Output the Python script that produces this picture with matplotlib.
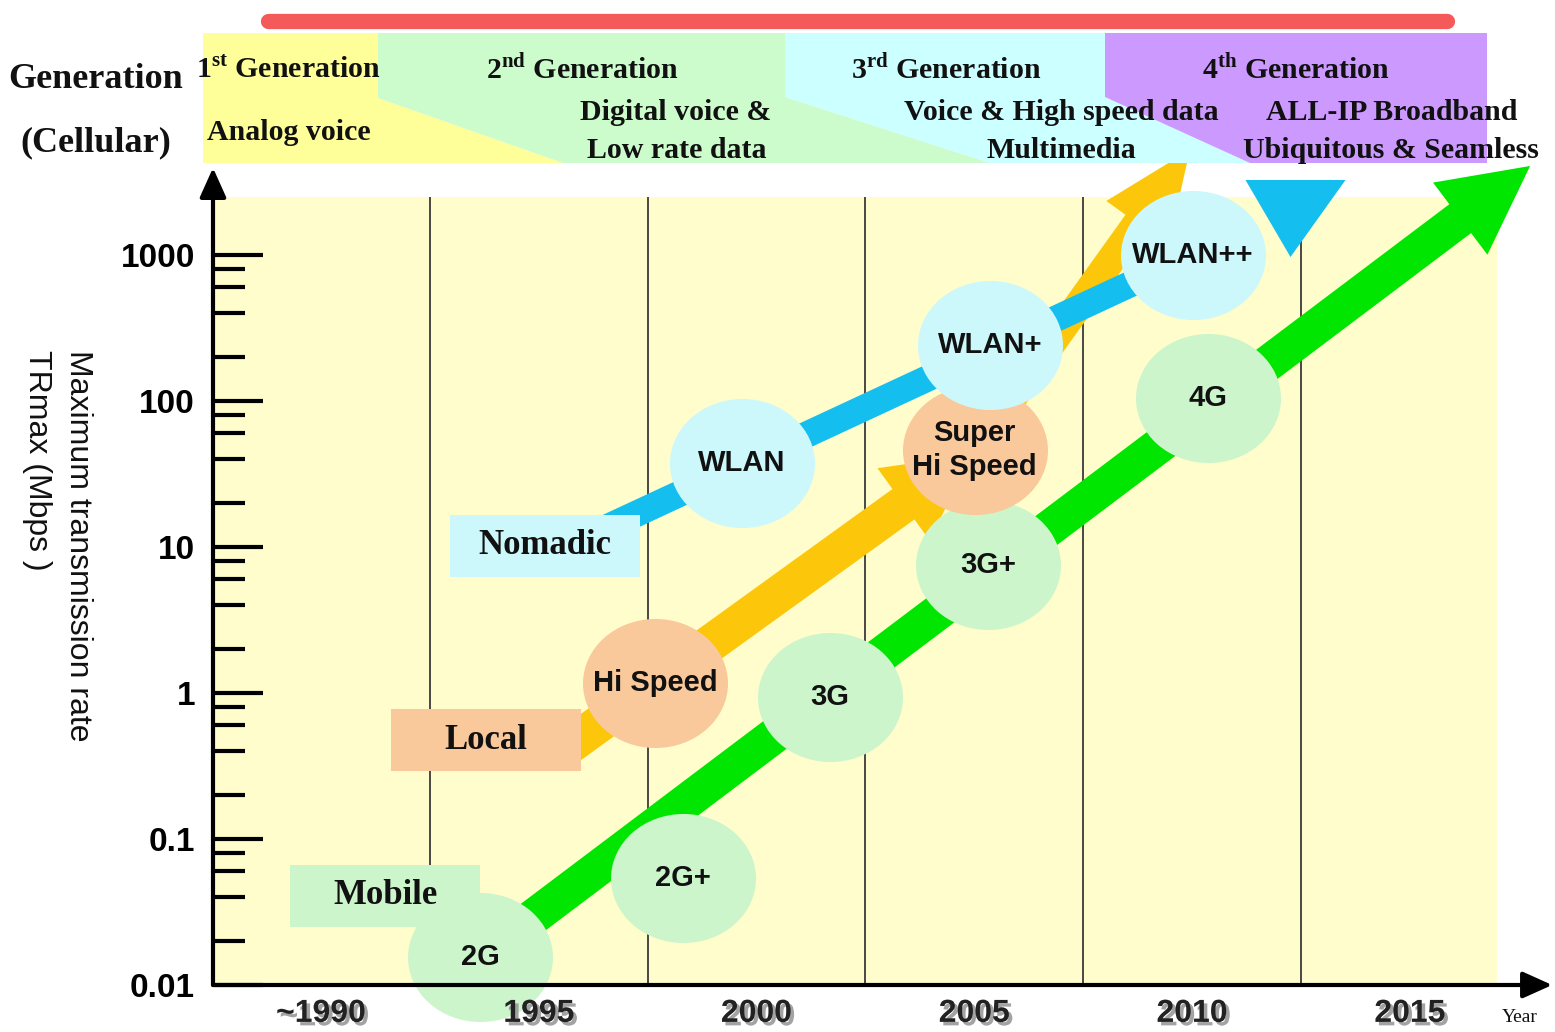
import matplotlib
matplotlib.use('Agg')
import matplotlib.pyplot as plt
import matplotlib.patheffects as pe
from matplotlib.path import Path
from matplotlib.transforms import Affine2D
from matplotlib.patches import FancyArrowPatch, Polygon
from matplotlib.ticker import FixedLocator, NullFormatter

plt.rcParams['font.family'] = ['Liberation Sans', 'DejaVu Sans']
plt.rcParams['mathtext.fontset'] = 'custom'
plt.rcParams['mathtext.rm'] = 'Liberation Serif:bold'
plt.rcParams['mathtext.bf'] = 'Liberation Serif:bold'

# ---- data ----
year_ticks = [1990, 1995, 2000, 2005, 2010, 2015]
year_labels = ['~1990', '1995', '2000', '2005', '2010', '2015']
era_lines = [1992.5, 1997.5, 2002.5, 2007.5, 2012.5]
rate_ticks = [0.01, 0.1, 1, 10, 100, 1000]
rate_labels = ['0.01', '0.1', '1', '10', '100', '1000']
rate_minor = [m * 10.0 ** e for e in range(-2, 3) for m in (2, 4, 6, 8)]

cell_labels = ['2G', '2G+', '3G', '3G+', '4G']
cell_years = [1993.65, 1998.31, 2001.68, 2005.31, 2010.36]
cell_rates = [0.0155, 0.054, 0.94, 7.5, 105]

local_labels = ['Hi Speed', 'Super\nHi Speed']
local_years = [1997.67, 2005.01]
local_rates = [1.17, 46]

wlan_labels = ['WLAN', 'WLAN+', 'WLAN++']
wlan_years = [1999.66, 2005.36, 2010.02]
wlan_rates = [37.6, 242, 1000]

class_labels = ['Mobile', 'Local', 'Nomadic']
class_years = [1991.48, 1993.79, 1995.14]
class_rates = [0.041, 0.476, 10.2]

# trend arrows: start and end (year, Mbps)
mobile_trend_years = [1993.65, 2017.76]
mobile_trend_rates = [0.0155, 4070]
local_trend_years = [1995.49, 2004.95]
local_trend_rates = [0.394, 42.9]
local_trend2_years = [2005.01, 2009.95]
local_trend2_rates = [46, 5250]
nomadic_trend_years = [1996.40, 2010.02]
nomadic_trend_rates = [12.9, 1000]
nomadic_head_year = [2012.36]
nomadic_head_rate = [1780]

# ---- figure ----
fig = plt.figure(figsize=(15.55, 10.32), dpi=100)
ax = fig.add_axes([213 / 1555, 1 - 985 / 1032, 1284 / 1555, 788 / 1032])
ax.set_facecolor('#fffdcc')
ax.set_yscale('log')
ax.set_xlim(1987.52, 2017.0)
ax.set_ylim(0.01, 2495)
for s in ax.spines.values():
    s.set_visible(False)

for x in era_lines:
    ax.axvline(x, color='#3a3a3a', lw=1.3, zorder=1)

GREEN, YELLOW, BLUE = '#00e600', '#fcc60a', '#14bff0'


def band_arrow(xs, ys, color, tail, head_w, head_l, z):
    a = FancyArrowPatch((xs[0], ys[0]), (xs[1], ys[1]),
                        arrowstyle=f'simple,head_length={head_l},head_width={head_w},tail_width={tail}',
                        mutation_scale=1, color=color, lw=0, shrinkA=0, shrinkB=0,
                        zorder=z, clip_on=False)
    ax.add_patch(a)


band_arrow(mobile_trend_years, mobile_trend_rates, GREEN, 26, 65, 63, 2)
band_arrow(local_trend2_years, local_trend2_rates, YELLOW, 21, 55, 65, 2.1)
ax.plot(nomadic_trend_years, nomadic_trend_rates, color=BLUE, lw=19,
        solid_capstyle='butt', zorder=2.2)
tri = Path([(-1, 0.77), (1, 0.77), (-0.1, -0.77), (-1, 0.77)],
           [Path.MOVETO, Path.LINETO, Path.LINETO, Path.CLOSEPOLY])
ax.scatter(nomadic_head_year, nomadic_head_rate, marker=tri, s=72 ** 2,
           color=BLUE, linewidths=0, zorder=2.2, clip_on=False)
band_arrow(local_trend_years, local_trend_rates, YELLOW, 27, 64, 61, 3)

# category boxes
rect = Path([(-1, -0.326), (1, -0.326), (1, 0.326), (-1, 0.326), (-1, -0.326)],
            [Path.MOVETO, Path.LINETO, Path.LINETO, Path.LINETO, Path.CLOSEPOLY])
box_colors = ['#ccf5cc', '#f9c89b', '#ccf7fb']
ax.scatter(class_years, class_rates, marker=rect, s=136.8 ** 2, c=box_colors,
           linewidths=0, zorder=4)
for lbl, x, y in zip(class_labels, class_years, class_rates):
    ax.text(x, y, lbl, ha='center', va='center', fontsize=25, fontweight='bold',
            family='Liberation Serif', color='#111111', zorder=4.5)

# bubbles
ell = Path.unit_circle().transformed(Affine2D().scale(1, 0.89))
bsize = 104.4 ** 2
for labels, xs, ys, col, z in [(cell_labels, cell_years, cell_rates, '#ccf5cc', 5),
                               (local_labels, local_years, local_rates, '#f9c89b', 6),
                               (wlan_labels, wlan_years, wlan_rates, '#ccf8fc', 7)]:
    ax.scatter(xs, ys, marker=ell, s=bsize, color=col, linewidths=0,
               zorder=z, clip_on=False)
    for lbl, x, y in zip(labels, xs, ys):
        ax.text(x, y, lbl, ha='center', va='center', fontsize=21, fontweight='bold',
                color='#111111', linespacing=1.25, zorder=8)

# axes with arrow heads
ap = dict(arrowstyle='-|>,head_length=0.6,head_width=0.27', mutation_scale=30,
          lw=3, color='black', shrinkA=0, shrinkB=0)
ax.annotate('', xy=(1.043, 0), xytext=(0, 0), xycoords='axes fraction',
            arrowprops=ap, annotation_clip=False, zorder=10)
ax.annotate('', xy=(0, 1.037), xytext=(0, 0), xycoords='axes fraction',
            arrowprops=ap, annotation_clip=False, zorder=10)

# ticks
ax.set_yticks(rate_ticks)
ax.set_yticklabels(rate_labels)
ax.yaxis.set_minor_locator(FixedLocator(rate_minor))
ax.yaxis.set_minor_formatter(NullFormatter())
ax.tick_params(axis='y', which='major', direction='in', length=36, width=3,
               pad=13, labelsize=24, color='black')
ax.tick_params(axis='y', which='minor', direction='in', length=23, width=3)
for t in ax.get_yticklabels():
    t.set_fontweight('bold')

ax.set_xticks(year_ticks)
ax.set_xticklabels(year_labels)
ax.tick_params(axis='x', length=0, pad=10, labelsize=23)
for t in ax.get_xticklabels():
    t.set_fontweight('bold')
    t.set_color('#222222')
    t.set_path_effects([pe.withSimplePatchShadow(offset=(2.5, -2.5),
                                                 shadow_rgbFace='#999999', alpha=0.9)])
ax.xaxis.set_zorder(9)
ax.yaxis.set_zorder(9)

# ---- header / layout overlay (pixel coordinates) ----
hdr = fig.add_axes([0, 0, 1, 1], zorder=5)
hdr.set_xlim(0, 1555)
hdr.set_ylim(1032, 0)
hdr.axis('off')
hdr.patch.set_alpha(0)

hdr.plot([268, 1447], [20.5, 20.5], color='#f55a5a', lw=11, solid_capstyle='round')

regions = [
    ([(203, 33), (378, 33), (378, 98), (563, 163), (203, 163)], '#ffff99'),
    ([(378, 33), (785, 33), (785, 97), (990, 163), (563, 163), (378, 98)], '#ccfccc'),
    ([(785, 33), (1105, 33), (1105, 97), (1250, 163), (990, 163), (785, 97)], '#ccffff'),
    ([(1105, 33), (1487, 33), (1487, 163), (1250, 163), (1105, 97)], '#cc99ff'),
]
for pts, col in regions:
    hdr.add_patch(Polygon(pts, closed=True, fc=col, lw=0))

serif = dict(family='Liberation Serif', fontweight='bold', color='#111111',
             ha='center', va='center')
hdr.text(96, 80, 'Generation', fontsize=26, **serif)
hdr.text(96, 143, '(Cellular)', fontsize=26, **serif)
hdr.text(288, 70, r'1$^{\mathbf{st}}$ Generation', fontsize=21.5, **serif)
hdr.text(289, 132, 'Analog voice', fontsize=21.5, **serif)
hdr.text(582, 70, r'2$^{\mathbf{nd}}$ Generation', fontsize=21.5, **serif)
hdr.text(676, 113, 'Digital voice &', fontsize=21.5, **serif)
hdr.text(677, 151, 'Low rate data', fontsize=21.5, **serif)
hdr.text(946, 70, r'3$^{\mathbf{rd}}$ Generation', fontsize=21.5, **serif)
hdr.text(1061, 113, 'Voice & High speed data', fontsize=21.5, **serif)
hdr.text(1061, 151, 'Multimedia', fontsize=21.5, **serif)
hdr.text(1296, 70, r'4$^{\mathbf{th}}$ Generation', fontsize=21.5, **serif)
hdr.text(1392, 113, 'ALL-IP Broadband', fontsize=21.5, **serif)
hdr.text(1391, 151, 'Ubiquitous & Seamless', fontsize=21.5, **serif)

hdr.text(78, 350, 'Maximum transmission rate', fontsize=23, rotation=270,
         rotation_mode='anchor', ha='left', va='center', color='#111111')
hdr.text(37, 350, 'TRmax (Mbps )', fontsize=23, rotation=270,
         rotation_mode='anchor', ha='left', va='center', color='#111111')
hdr.text(1520, 1018, 'Year', fontsize=14, family='Liberation Serif',
         ha='center', va='center', color='#111111')

fig.savefig('out.png', dpi=100)
